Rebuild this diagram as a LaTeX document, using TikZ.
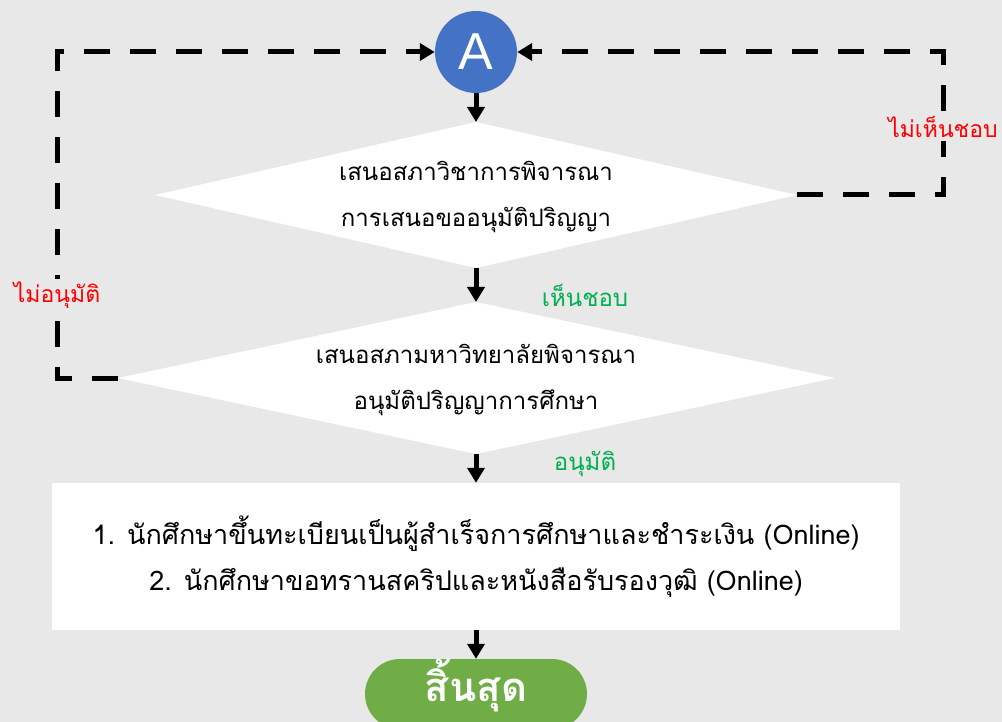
\documentclass[tikz,border=0pt]{standalone}
\usepackage{fontspec}
\setmainfont{Loma}[Script=Thai]
\newfontfamily\latinsans{Liberation Sans}
\usetikzlibrary{arrows.meta}
\definecolor{bggray}{HTML}{E8E8E8}
\definecolor{ablue}{HTML}{4472C4}
\definecolor{endgreen}{HTML}{70AD47}
\definecolor{oktext}{HTML}{00B050}
\definecolor{notext}{HTML}{FF0000}
\tikzset{
  flowarrow/.style={line width=5pt, -{Triangle[width=17pt,length=15pt]}},
  dashline/.style={line width=5pt, dash pattern=on 26pt off 20pt, -{Triangle[width=17pt,length=15pt]}},
  decisiontext/.style={align=center, inner sep=0pt, font=\fontsize{24}{46}\selectfont},
  redlabel/.style={text=notext, fill=bggray, inner sep=3pt, font=\fontsize{23}{26}\selectfont},
  greenlabel/.style={text=oktext, font=\fontsize{24}{26}\selectfont},
}
\begin{document}
\begin{tikzpicture}[x=1pt,y=-1pt]
  \fill[bggray] (0,0) rectangle (1002,722);
  \useasboundingbox (0,0) rectangle (1002,722);
  \clip (0,0) rectangle (1002,722);

  \node[circle, fill=ablue, minimum size=82pt, inner sep=0pt, text=white,
        font=\fontsize{52}{56}\latinsans] (A) at (476,52) {A};

  % decision 1
  \coordinate (d1n) at (476,122);
  \coordinate (d1s) at (476,268);
  \coordinate (d1w) at (155,195);
  \coordinate (d1e) at (797,195);
  \fill[white] (d1n) -- (d1e) -- (d1s) -- (d1w) -- cycle;
  \node[decisiontext] (d1) at (476,197)
    {เสนอสภาวิชาการพิจารณา\\การเสนอขออนุมัติปริญญา};

  % decision 2
  \coordinate (d2n) at (476,302);
  \coordinate (d2s) at (476,454);
  \coordinate (d2w) at (118,378);
  \coordinate (d2e) at (835,378);
  \fill[white] (d2n) -- (d2e) -- (d2s) -- (d2w) -- cycle;
  \node[decisiontext] (d2) at (476,380)
    {เสนอสภามหาวิทยาลัยพิจารณา\\อนุมัติปริญญาการศึกษา};

  \node[rectangle, fill=white, minimum width=848pt, minimum height=147pt, inner sep=0pt,
        align=center, font=\fontsize{27}{46}\selectfont] (box) at (476,556.5)
    {1. นักศึกษาขึ้นทะเบียนเป็นผู้สำเร็จการศึกษาและชำระเงิน (Online)\\
     2. นักศึกษาขอทรานสคริปและหนังสือรับรองวุฒิ (Online)};

  \node[rectangle, rounded corners=35pt, fill=endgreen, minimum width=222pt, minimum height=70pt,
        inner sep=0pt] (end) at (476,694) {};
  \node[text=white, inner sep=0pt, font=\fontsize{40}{42}\selectfont\bfseries] (endtext) at (476,686) {สิ้นสุด};

  \draw[flowarrow] (A.south) -- (d1n);
  \draw[flowarrow] (d1s) -- (d2n);
  \draw[flowarrow] (d2s) -- (box.north);
  \draw[flowarrow] (box.south) -- (end.north);

  \coordinate (rc) at (943,195);
  \coordinate (lc) at (57,378);
  \draw[dashline] (d1e) -- (rc) |- (A.east);
  \draw[dashline] (d2w) -- (lc) |- (A.west);

  \node[redlabel] (no1) at (943,127) {ไม่เห็นชอบ};
  \node[redlabel] (no2) at (57,295) {ไม่อนุมัติ};
  \node[greenlabel] (yes1) at (585,295) {เห็นชอบ};
  \node[greenlabel] (yes2) at (585,464) {อนุมัติ};
\end{tikzpicture}
\end{document}
